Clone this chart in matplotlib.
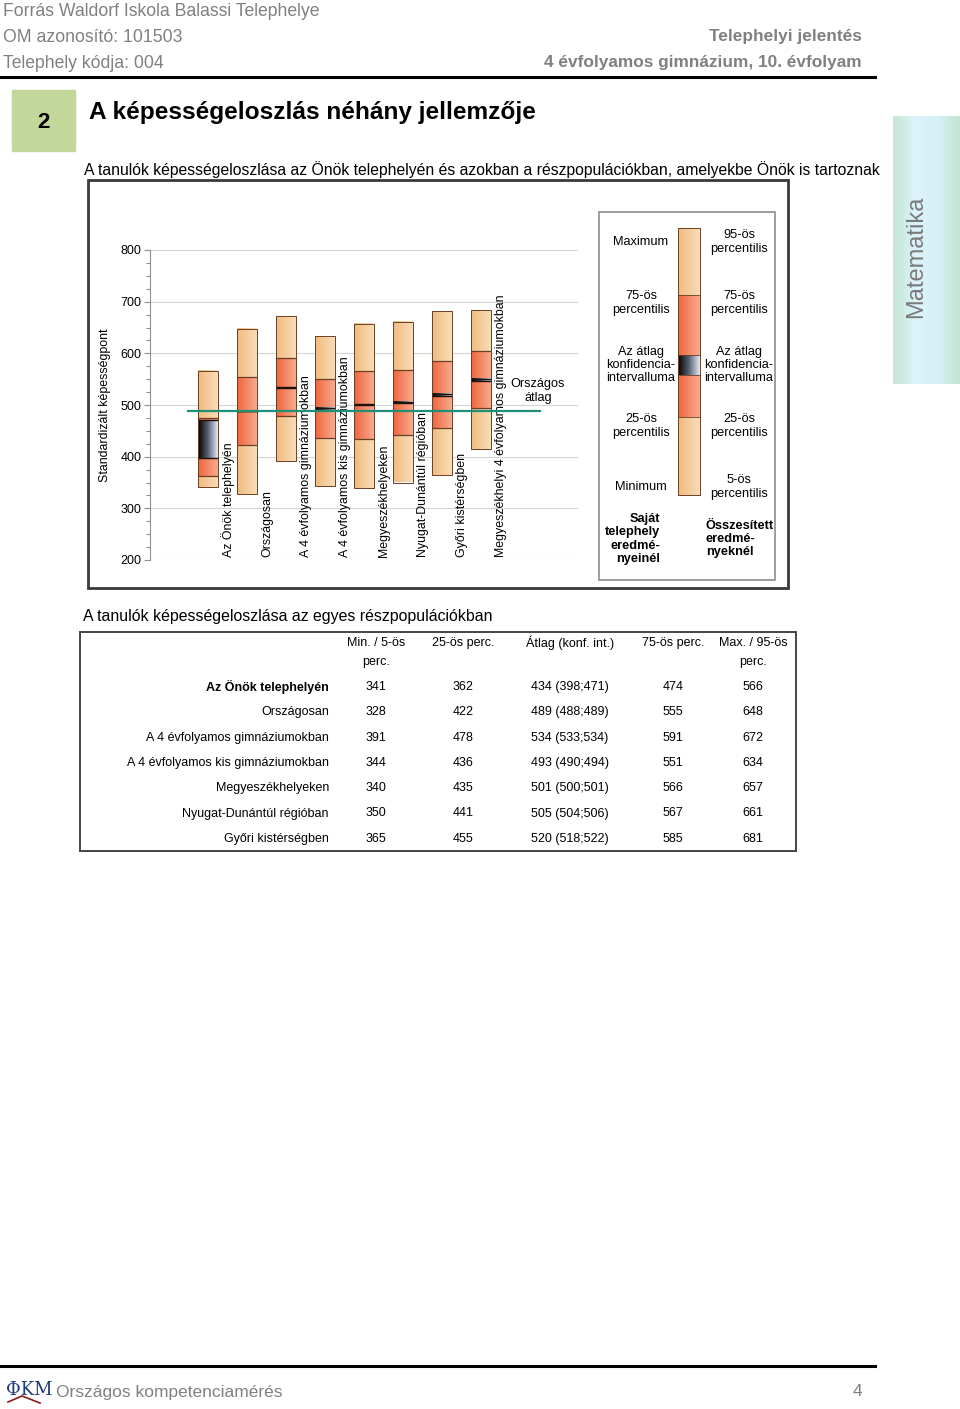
import numpy as np
import matplotlib
matplotlib.use("Agg")
import matplotlib.pyplot as plt
from matplotlib import font_manager as fm
from matplotlib.colors import LinearSegmentedColormap
from matplotlib.patches import Rectangle

# fonts: the report uses Arial (chart) and Arial Narrow (header, table)
names = {f.name for f in fm.fontManager.ttflist}
NARROW = "Liberation Sans Narrow" if "Liberation Sans Narrow" in names else "Liberation Sans"
plt.rcParams["font.family"] = ["Liberation Sans", "DejaVu Sans"]

# data
groups = ["Az Önök telephelyén", "Országosan", "A 4 évfolyamos gimnáziumokban",
          "A 4 évfolyamos kis gimnáziumokban", "Megyeszékhelyeken",
          "Nyugat-Dunántúl régióban", "Győri kistérségben",
          "Megyeszékhelyi 4 évfolyamos gimnáziumokban"]
mins = [341, 328, 391, 344, 340, 350, 365, 415]
p25 = [362, 422, 478, 436, 435, 441, 455, 495]
means = [434, 489, 534, 493, 501, 505, 520, 549]
ci_lo = [398, 488, 533, 490, 500, 504, 518, 547]
ci_hi = [471, 489, 534, 494, 501, 506, 522, 551]
p75 = [474, 555, 591, 551, 566, 567, 585, 604]
maxs = [566, 648, 672, 634, 657, 661, 681, 683]
national_mean = 489
yticks = [200, 300, 400, 500, 600, 700, 800]
table_rows = 7  # last chart group is not listed in the table
table_head1 = ["Min. / 5-ös", "25-ös perc.", "Átlag (konf. int.)",
               "75-ös perc.", "Max. / 95-ös"]
table_head2 = ["perc.", "", "", "", "perc."]

LIGHT = ["#efbb7e", "#f9ddb8"]
SALMON = ["#ef653d", "#f8ab8e"]
CI = ["#000000", "#5a6170", "#e2ebfa"]
EDGE = "#6b3f25"
GRAY = "#808080"


def hgrad(ax, x0, x1, y0, y1, cols, z=2):
    cmap = LinearSegmentedColormap.from_list("g", cols)
    ax.imshow(np.linspace(0, 1, 64).reshape(1, -1), cmap=cmap,
              extent=(x0, x1, y0, y1), aspect="auto", zorder=z,
              interpolation="bilinear")


fig = plt.figure(figsize=(9.6, 14.09), dpi=100)

# page layer in pixel coordinates
page = fig.add_axes([0, 0, 1, 1])
page.set_xlim(0, 960)
page.set_ylim(1409, 0)
page.axis("off")

hfs = 12.7
page.text(3, 11, "Forrás Waldorf Iskola Balassi Telephelye", family=NARROW,
          fontsize=hfs, color=GRAY, va="center")
page.text(3, 37, "OM azonosító: 101503", family=NARROW, fontsize=hfs,
          color=GRAY, va="center")
page.text(3, 63, "Telephely kódja: 004", family=NARROW, fontsize=hfs,
          color=GRAY, va="center")
page.text(862, 37, "Telephelyi jelentés", family=NARROW, fontsize=12.4,
          color=GRAY, va="center", ha="right", weight="bold")
page.text(862, 63, "4 évfolyamos gimnázium, 10. évfolyam", family=NARROW,
          fontsize=12.4, color=GRAY, va="center", ha="right", weight="bold")
page.plot([0, 875], [77, 77], color="black", lw=2.2)

page.add_patch(Rectangle((12, 90), 63, 61, color="#c4d79b"))
page.text(43, 122, "2", fontsize=16, weight="bold", ha="center", va="center",
          family=NARROW)
page.text(89, 112, "A képességeloszlás néhány jellemzője", family=NARROW,
          fontsize=17.6, weight="bold", va="center")

# side tab
hgrad(page, 893, 960, 384, 116, ["#c6e6d4", "#dcf3fa", "#d6f0f6", "#c4e5d2"], z=1)
page.text(916, 257, "Matematika", rotation=90, fontsize=17, color="#7a7a7a",
          ha="center", va="center")

page.text(84, 170, "A tanulók képességeloszlása az Önök telephelyén és azokban a "
          "részpopulációkban, amelyekbe Önök is tartoznak", fontsize=11.34,
          va="center")

# chart frame
page.add_patch(Rectangle((88, 180), 700, 408, fill=False, ec="#3a3a3a", lw=2))

# legend box
page.add_patch(Rectangle((599, 212), 176, 368, fill=False, ec="#8c8c8c", lw=1.2))
leg_y = [495, 417, 375, 355, 295, 228]
leg_cols = [LIGHT, SALMON, CI, SALMON, LIGHT]
for k in range(5):
    hgrad(page, 678, 700, leg_y[k], leg_y[k + 1], leg_cols[k], z=3)
page.add_patch(Rectangle((678, 228), 22, 267, fill=False, ec=EDGE, lw=0.7, zorder=4))
for yy in leg_y[1:-1]:
    page.plot([678, 700], [yy, yy], color=EDGE, lw=0.6, zorder=4)

lfs = 9.2
lsp = 1.15
left_items = [(242, "Maximum"), (303, "75-ös\npercentilis"),
              (365, "Az átlag\nkonfidencia-\nintervalluma"),
              (426, "25-ös\npercentilis"), (487, "Minimum")]
right_items = [(242, "95-ös\npercentilis"), (303, "75-ös\npercentilis"),
               (365, "Az átlag\nkonfidencia-\nintervalluma"),
               (426, "25-ös\npercentilis"), (487, "5-ös\npercentilis")]
for yy, t in left_items:
    page.text(641, yy, t, fontsize=lfs, ha="center", va="center", linespacing=lsp)
for yy, t in right_items:
    page.text(739, yy, t, fontsize=lfs, ha="center", va="center", linespacing=lsp)
page.text(660, 539, "Saját\ntelephely\neredmé-\nnyeinél", fontsize=lfs,
          weight="bold", ha="right", va="center", multialignment="right",
          linespacing=lsp)
page.text(706, 539, "Összesített\neredmé-\nnyeknél", fontsize=lfs,
          weight="bold", ha="left", va="center", linespacing=lsp)

# main chart
ax = fig.add_axes([150 / 960, 1 - 560 / 1409, 428 / 960, 310 / 1409])
ax.set_facecolor("white")
x = np.arange(len(groups))
w = 0.49
for i in x:
    x0, x1 = i - w / 2, i + w / 2
    hgrad(ax, x0, x1, mins[i], p25[i], LIGHT)
    hgrad(ax, x0, x1, p25[i], p75[i], SALMON)
    hgrad(ax, x0, x1, p75[i], maxs[i], LIGHT)
    hgrad(ax, x0, x1, ci_lo[i], ci_hi[i], CI, z=3)
    ax.add_patch(Rectangle((x0, mins[i]), w, maxs[i] - mins[i], fill=False,
                           ec=EDGE, lw=0.7, zorder=4))
    ax.hlines([p25[i], p75[i]], x0, x1, color=EDGE, lw=0.9, zorder=4)
    ax.hlines([ci_lo[i], ci_hi[i]], x0, x1, color="#1e130c", lw=1.0, zorder=4)
    ax.text(i + 0.51, 206, groups[i], rotation=90, ha="center", va="bottom",
            fontsize=8.9, zorder=5)

ax.plot([-0.5, len(groups) + 0.5], [national_mean, national_mean],
        color="#1f8f78", lw=1.6, zorder=6)
ax.text(8.46, 527, "Országos\nátlag", ha="center", va="center", fontsize=9.2,
        linespacing=1.15)

ax.set_xlim(-1.487, 9.487)
ax.set_ylim(200, 800)
ax.set_yticks(yticks)
ax.set_yticks(np.arange(200, 801, 25), minor=True)
ax.set_xticks([])
ax.grid(axis="y", color="#d4d4d4", lw=0.8, zorder=0)
for s in ["top", "right", "bottom"]:
    ax.spines[s].set_visible(False)
ax.spines["left"].set_color("#909090")
ax.tick_params(axis="y", which="both", colors="#909090", labelcolor="black",
               labelsize=9, length=4, width=0.8, pad=2)
ax.tick_params(axis="y", which="minor", length=3)
ax.set_ylabel("Standardizált képességpont", fontsize=8.9)
ax.yaxis.set_label_coords(-0.091, 0.5)

# table
page.text(83, 617, "A tanulók képességeloszlása az egyes részpopulációkban",
          fontsize=11.45, va="center")
page.add_patch(Rectangle((80, 632), 716, 219, fill=False, ec="#444444", lw=1.4))
col_x = [376, 463, 570, 673, 753]
tfs = 9.0
for cx, h1, h2 in zip(col_x, table_head1, table_head2):
    page.text(cx, 643, h1, family=NARROW, fontsize=tfs, ha="center", va="center")
    if h2:
        page.text(cx, 662, h2, family=NARROW, fontsize=tfs, ha="center",
                  va="center")
for r in range(table_rows):
    yy = 687 + 25.3 * r
    page.text(329, yy, groups[r], family=NARROW, fontsize=tfs, ha="right",
              va="center", weight="bold" if r == 0 else "normal")
    vals = [str(mins[r]), str(p25[r]), f"{means[r]} ({ci_lo[r]};{ci_hi[r]})",
            str(p75[r]), str(maxs[r])]
    for cx, v in zip(col_x, vals):
        page.text(cx, yy, v, family=NARROW, fontsize=tfs, ha="center", va="center")

# footer
page.plot([0, 875], [1366, 1366], color="black", lw=2.2)
page.text(6, 1390, "ΦKM", family="DejaVu Serif", fontsize=13, color="#1f3a7a",
          va="center")
page.plot([8, 22, 40], [1402, 1396, 1403], color="#8b1a1a", lw=1.2)
page.text(56, 1392, "Országos kompetenciamérés", family=NARROW, fontsize=12.5,
          color=GRAY, va="center")
page.text(862, 1392, "4", family=NARROW, fontsize=12.5, color=GRAY,
          va="center", ha="right")

fig.savefig("out.png", dpi=100)
